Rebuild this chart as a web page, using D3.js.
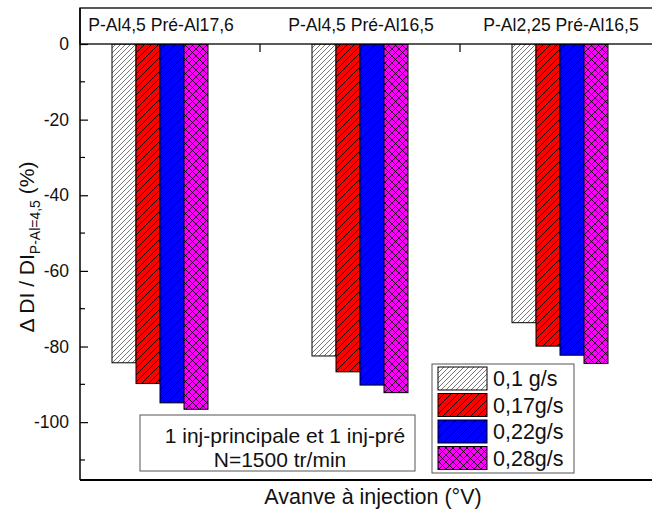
<!DOCTYPE html>
<html><head><meta charset="utf-8">
<script src="https://cdn.jsdelivr.net/npm/d3@7"></script>
<style>body{margin:0;background:#fff}svg{display:block;font-family:"Liberation Sans",Arial,sans-serif}</style>
</head><body><svg id="c" width="652" height="513"></svg>
<script>
const categories = ["P-Al4,5 Pré-Al17,6", "P-Al4,5 Pré-Al16,5", "P-Al2,25 Pré-Al16,5"];
const seriesNames = ["0,1 g/s", "0,17g/s", "0,22g/s", "0,28g/s"];
const s01 = [-84.3, -82.5, -73.7];
const s017 = [-89.8, -86.7, -79.9];
const s022 = [-94.9, -90.2, -82.3];
const s028 = [-96.6, -92.2, -84.5];
const majorTicks = [0, -20, -40, -60, -80, -100];
const minorTicks = [-10, -30, -50, -70, -90, -110];
const seriesValues = [s01, s017, s022, s028];

const svg = d3.select("#c");
const L = 80, R = 653, T = 8, H0 = 44, B = 480;
const y = d3.scaleLinear().domain([0, -115.3]).range([H0, B]);
const x = d3.scaleBand().domain(categories).range([60, 660]).padding(0);
const xs = d3.scaleBand().domain(seriesNames).range([0, 96]);
const off = (x.bandwidth() - 96) / 2;

// patterns
const defs = svg.append("defs");
function hatch(id, bg, stroke, sp, sw, cross) {
  const p = defs.append("pattern").attr("id", id).attr("patternUnits", "userSpaceOnUse")
    .attr("width", sp).attr("height", sp);
  p.append("rect").attr("width", sp).attr("height", sp).attr("fill", bg);
  const d = `M0,${sp} L${sp},0 M${-sp/2},${sp/2} L${sp/2},${-sp/2} M${sp/2},${sp*1.5} L${sp*1.5},${sp/2}`;
  p.append("path").attr("d", d).attr("stroke", stroke).attr("stroke-width", sw);
  if (cross) {
    const d2 = `M0,0 L${sp},${sp} M${-sp/2},${sp/2} L${sp/2},${sp*1.5} M${sp/2},${-sp/2} L${sp*1.5},${sp/2}`;
    p.append("path").attr("d", d2).attr("stroke", stroke).attr("stroke-width", sw);
  }
}
hatch("p0", "#fff", "#555", 5, 0.8, false);
hatch("p1", "#ff0000", "#000", 7, 0.9, false);
hatch("p2", "#0000ff", "#000", 10, 0.9, false);
hatch("p3", "#ff00ff", "#000", 7, 0.8, true);
const fills = ["url(#p0)", "url(#p1)", "url(#p2)", "url(#p3)"];

// bars
seriesValues.forEach((vals, si) => {
  svg.append("g").selectAll("rect").data(vals).join("rect")
    .attr("x", (d, i) => x(categories[i]) + off + xs(seriesNames[si]))
    .attr("y", y(0))
    .attr("width", xs.bandwidth())
    .attr("height", d => y(d) - y(0))
    .attr("fill", fills[si]).attr("stroke", "#000").attr("stroke-width", 1);
});

// header band
svg.append("rect").attr("x", L).attr("y", T).attr("width", R - L).attr("height", H0 - T)
  .attr("fill", "#fff").attr("stroke", "#000").attr("stroke-width", 1.3);
svg.append("g").selectAll("text").data(categories).join("text")
  .attr("x", d => x(d) + x.bandwidth() / 2 + 1).attr("y", 31)
  .attr("text-anchor", "middle").attr("font-size", 17.6).attr("fill", "#111").text(d => d);
// top category separator ticks
svg.append("g").selectAll("line").data(categories.slice(1)).join("line")
  .attr("x1", d => x(d)).attr("x2", d => x(d)).attr("y1", H0).attr("y2", H0 + 8)
  .attr("stroke", "#000").attr("stroke-width", 1.2);

// y axis
const ax = svg.append("g").attr("transform", `translate(${L},0)`)
  .call(d3.axisLeft(y).tickValues(majorTicks).tickSize(-8).tickPadding(11).tickFormat(d => String(d)));
ax.select(".domain").remove();
ax.selectAll("line").attr("stroke-width", 1.2);
ax.selectAll("text").attr("font-size", 17.5).attr("fill", "#111").attr("font-family", '"Liberation Sans",Arial,sans-serif');
svg.append("g").selectAll("line").data(minorTicks).join("line")
  .attr("x1", L).attr("x2", L + 5).attr("y1", d => y(d)).attr("y2", d => y(d))
  .attr("stroke", "#000").attr("stroke-width", 1.2);

// frame
svg.append("line").attr("x1", L).attr("x2", L).attr("y1", T).attr("y2", B).attr("stroke", "#000").attr("stroke-width", 1.5);
svg.append("line").attr("x1", L).attr("x2", R).attr("y1", B).attr("y2", B).attr("stroke", "#000").attr("stroke-width", 2);

// text box
svg.append("rect").attr("x", 140).attr("y", 415).attr("width", 275).attr("height", 56)
  .attr("fill", "#fff").attr("stroke", "#555").attr("stroke-width", 1);
svg.append("text").attr("x", 285).attr("y", 443).attr("text-anchor", "middle").attr("font-size", 21).attr("fill", "#111").text("1 inj-principale et 1 inj-pré");
svg.append("text").attr("x", 280).attr("y", 467).attr("text-anchor", "middle").attr("font-size", 21).attr("fill", "#111").text("N=1500 tr/min");

// legend
const lg = svg.append("g").attr("transform", "translate(432,364)");
lg.append("rect").attr("width", 142).attr("height", 109).attr("fill", "#fff").attr("stroke", "#555").attr("stroke-width", 1);
seriesNames.forEach((n, i) => {
  lg.append("rect").attr("x", 6).attr("y", 3 + i * 26.5).attr("width", 49).attr("height", 23)
    .attr("fill", fills[i]).attr("stroke", "#000").attr("stroke-width", 1);
  lg.append("text").attr("x", 61).attr("y", 22 + i * 26.5).attr("font-size", 21.5).attr("fill", "#111").text(n);
});

// axis titles
svg.append("text").attr("x", 373).attr("y", 504).attr("text-anchor", "middle").attr("font-size", 21.5).attr("fill", "#111").text("Avanve à injection (°V)");
const yl = svg.append("text").attr("transform", "translate(34,247) rotate(-90)").attr("text-anchor", "middle").attr("font-size", 21).attr("fill", "#111");
yl.append("tspan").text("Δ DI / DI");
yl.append("tspan").attr("font-size", 14).attr("dy", 6).text("P-Al=4,5");
yl.append("tspan").attr("dy", -6).text(" (%)");
</script></body></html>
